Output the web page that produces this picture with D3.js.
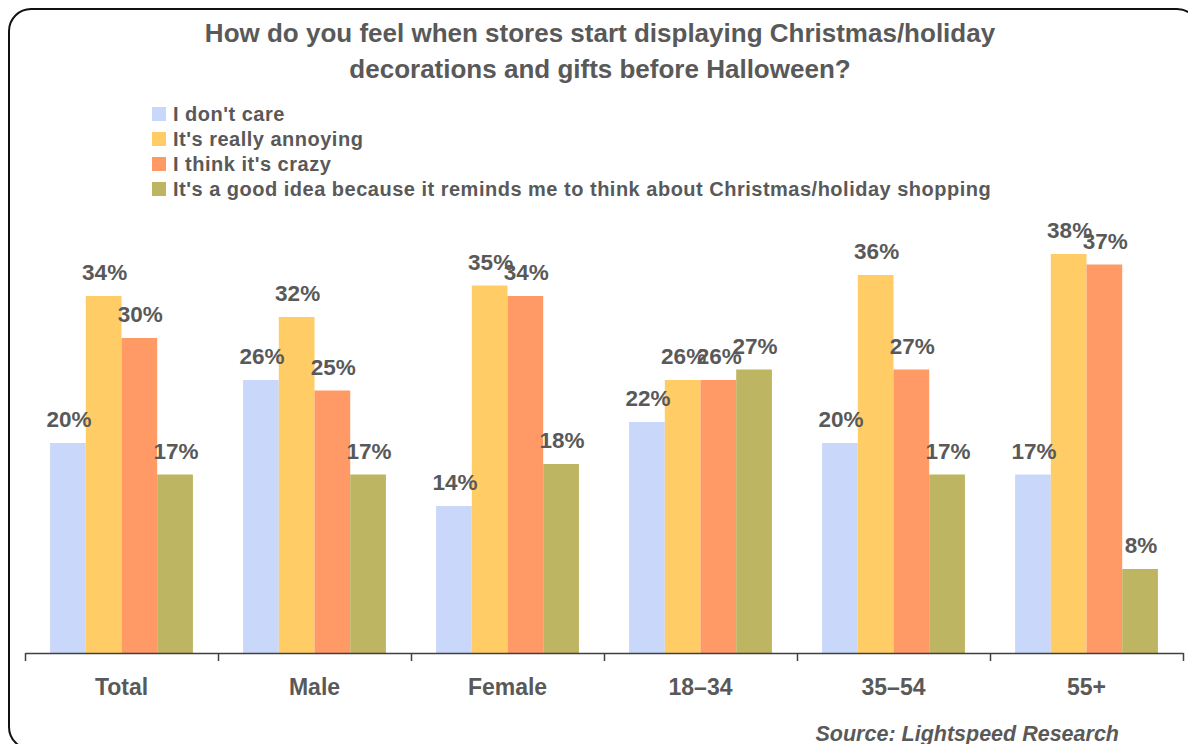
<!DOCTYPE html>
<html>
<head>
<meta charset="utf-8">
<script src="https://cdn.jsdelivr.net/npm/d3@7"></script>
<style>
  html, body { margin: 0; padding: 0; background: #ffffff; }
  svg { display: block; }
  text { font-family: "Liberation Sans", Arial, sans-serif; }
</style>
</head>
<body>
<svg id="chart" width="1188" height="744"></svg>
<script>
const categories = ["Total", "Male", "Female", "18–34", "35–54", "55+"];
const seriesNames = [
  "I don't care",
  "It's really annoying",
  "I think it's crazy",
  "It's a good idea because it reminds me to think about Christmas/holiday shopping"
];
const dontCare = [20, 26, 14, 22, 20, 17];
const annoying = [34, 32, 35, 26, 36, 38];
const crazy    = [30, 25, 34, 26, 27, 37];
const goodIdea = [17, 17, 18, 27, 17, 8];
const seriesValues = [dontCare, annoying, crazy, goodIdea];
const colors = ["#C9D7FA", "#FFCC66", "#FF9966", "#BDB562"];
const titleLines = [
  "How do you feel when stores start displaying Christmas/holiday",
  "decorations and gifts before Halloween?"
];
const sourceText = "Source: Lightspeed Research";

const svg = d3.select("#chart");
const textColor = "#595959";

// card border
svg.append("rect")
  .attr("x", 9).attr("y", 9)
  .attr("width", 1190).attr("height", 740)
  .attr("rx", 22).attr("ry", 22)
  .attr("fill", "#fff")
  .attr("stroke", "#111").attr("stroke-width", 2);

// title
svg.append("g").selectAll("text")
  .data(titleLines).join("text")
  .attr("x", 600)
  .attr("y", (d, i) => 42 + i * 36)
  .attr("text-anchor", "middle")
  .attr("font-size", 26)
  .attr("font-weight", "bold")
  .attr("fill", textColor)
  .text(d => d);

// scales
const x0 = d3.scaleBand().domain(categories).range([25, 1183]).padding(0);
const bw = x0.bandwidth();
const x1 = d3.scaleBand().domain(d3.range(seriesNames.length))
  .range([bw * 0.13, bw * 0.87]).padding(0);
const y = d3.scaleLinear().domain([0, 40]).range([653, 233]);

// bars
const groups = svg.append("g").selectAll("g")
  .data(categories).join("g")
  .attr("transform", d => `translate(${x0(d)},0)`);

groups.each(function(cat, ci) {
  const g = d3.select(this);
  const data = seriesValues.map((vals, si) => ({ si, v: vals[ci] }));
  g.selectAll("rect").data(data).join("rect")
    .attr("x", d => x1(d.si))
    .attr("width", x1.bandwidth())
    .attr("y", d => y(d.v))
    .attr("height", d => y(0) - y(d.v))
    .attr("fill", d => colors[d.si]);
});

// value labels
groups.each(function(cat, ci) {
  const g = d3.select(this);
  const data = seriesValues.map((vals, si) => ({ si, v: vals[ci] }));
  g.selectAll("text.val").data(data).join("text")
    .attr("class", "val")
    .attr("x", d => x1(d.si) + x1.bandwidth() / 2 + 1)
    .attr("y", d => y(d.v) - 16)
    .attr("text-anchor", "middle")
    .attr("font-size", 22.5)
    .attr("font-weight", "bold")
    .attr("fill", textColor)
    .text(d => d.v + "%");
});

// axis: boundary ticks
const boundaries = categories.map(c => x0(c)).concat([x0.range()[1]]);
const xLin = d3.scaleLinear().domain([25, 1183]).range([25, 1183]);
const axisG = svg.append("g")
  .attr("transform", `translate(0,${y(0)})`)
  .call(d3.axisBottom(xLin).tickValues(boundaries).tickFormat("").tickSize(8).tickSizeOuter(0));
axisG.selectAll("path, line").attr("stroke", "#404040").attr("stroke-width", 1.5);

// category labels
const labelAxis = svg.append("g")
  .attr("transform", `translate(0,${y(0)})`)
  .call(d3.axisBottom(x0).tickSize(0).tickPadding(26));
labelAxis.select(".domain").remove();
labelAxis.selectAll("text")
  .attr("font-family", "'Liberation Sans', Arial, sans-serif")
  .attr("font-size", 23)
  .attr("font-weight", "bold")
  .attr("fill", textColor);

// legend
const legend = svg.append("g").selectAll("g")
  .data(seriesNames).join("g")
  .attr("transform", (d, i) => `translate(152,${107 + i * 25})`);
legend.append("rect")
  .attr("width", 14).attr("height", 14)
  .attr("fill", (d, i) => colors[i]);
legend.append("text")
  .attr("x", 21).attr("y", 13.5)
  .attr("font-size", 20)
  .attr("letter-spacing", 0.5)
  .attr("font-weight", "bold")
  .attr("fill", textColor)
  .text(d => d);

// source
svg.append("text")
  .attr("x", 1119).attr("y", 741)
  .attr("text-anchor", "end")
  .attr("font-size", 21.5)
  .attr("font-weight", "bold")
  .attr("font-style", "italic")
  .attr("fill", textColor)
  .text(sourceText);
</script>
</body>
</html>
